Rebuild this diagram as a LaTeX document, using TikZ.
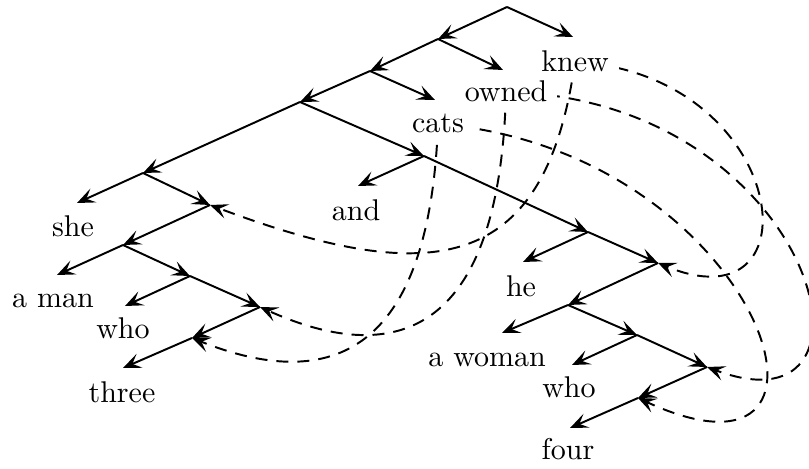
\documentclass[tikz,border=0pt]{standalone}
\usetikzlibrary{arrows.meta}
\pgfdeclarelayer{background}
\pgfsetlayers{background,main}
\tikzset{
  word/.style={anchor=base, fill=white},
  branch/.style={-{Stealth[length=6pt, width=5pt, inset=2.6pt]}, line width=0.65pt},
  link/.style={-{Stealth[length=6pt, width=5pt, inset=2.6pt]}, line width=0.65pt, dash pattern=on 4pt off 3pt}
}
\begin{document}
\begin{tikzpicture}[x=0.3333pt, y=-0.3333pt]
\useasboundingbox (0,0) rectangle (809,469);
% tree points
\coordinate (top) at (507,7);
\coordinate (v1) at (438,39);
\coordinate (v2) at (370,71);
\coordinate (v3) at (300,102);
\coordinate (l1) at (143,173);
\coordinate (l2) at (210,205);
\coordinate (l3) at (123,245);
\coordinate (l4) at (190,276);
\coordinate (l5) at (260,307);
\coordinate (l6) at (192,338);
\coordinate (r1) at (424,156);
\coordinate (r2) at (588,232);
\coordinate (r3) at (658,263);
\coordinate (r4) at (568,305);
\coordinate (r5) at (637,335);
\coordinate (r6) at (707,367);
\coordinate (r7) at (638,398);
% leaf tips
\coordinate (kn0) at (573,37);
\coordinate (ow0) at (503,70);
\coordinate (ca0) at (435,100);
\coordinate (sh0) at (77,203);
\coordinate (an0) at (358,186);
\coordinate (he0) at (523,262);
\coordinate (ma0) at (57,275);
\coordinate (wh0) at (125,306);
\coordinate (wo0) at (502,333);
\coordinate (wh1) at (572,365);
\coordinate (th0) at (123,368);
\coordinate (fo0) at (570,428);
% words
\node[word] (kn) at (575,72) {knew};
\node[word] (ow) at (506,102) {owned};
\node[word] (ca) at (438,133) {cats};
\node[word] (sh) at (73,237) {she};
\node[word] (an) at (356,221) {and};
\node[word] (he) at (521,297) {he};
\node[word] (ma) at (53,308) {a man};
\node[word] (wh) at (123,339) {who};
\node[word] (wo) at (487,367) {a woman};
\node[word] (whb) at (569,398) {who};
\node[word] (th) at (122,403) {three};
\node[word] (fo) at (568,460) {four};
% branches
\draw[branch] (top) -- (v1); \draw[branch] (top) -- (kn0);
\draw[branch] (v1) -- (v2); \draw[branch] (v1) -- (ow0);
\draw[branch] (v2) -- (v3); \draw[branch] (v2) -- (ca0);
\draw[branch] (v3) -- (l1); \draw[branch] (v3) -- (r1);
\draw[branch] (l1) -- (sh0); \draw[branch] (l1) -- (l2);
\draw[branch] (l2) -- (l3);
\draw[branch] (l3) -- (ma0); \draw[branch] (l3) -- (l4);
\draw[branch] (l4) -- (wh0); \draw[branch] (l4) -- (l5);
\draw[branch] (l5) -- (l6);
\draw[branch] (l6) -- (th0);
\draw[branch] (r1) -- (an0); \draw[branch] (r1) -- (r2);
\draw[branch] (r2) -- (he0); \draw[branch] (r2) -- (r3);
\draw[branch] (r3) -- (r4);
\draw[branch] (r4) -- (wo0); \draw[branch] (r4) -- (r5);
\draw[branch] (r5) -- (wh1); \draw[branch] (r5) -- (r6);
\draw[branch] (r6) -- (r7);
\draw[branch] (r7) -- (fo0);
% shared words
\begin{pgfonlayer}{background}
\draw[link] (kn.center) .. controls +(215,13) and +(162,67) .. (r3);
\draw[link] (kn.center) .. controls +(-30,215) and +(219,82) .. (l2);
\draw[link] (ow.center) .. controls +(310,8) and +(194,73) .. (r6);
\draw[link] (ow.center) .. controls +(-6,238) and +(140,63) .. (l5);
\draw[link] (ca.center) .. controls +(322,26) and +(240,111) .. (r7);
\draw[link] (ca.center) .. controls +(-8,216) and +(150,60) .. (l6);
\end{pgfonlayer}
\end{tikzpicture}
\end{document}
